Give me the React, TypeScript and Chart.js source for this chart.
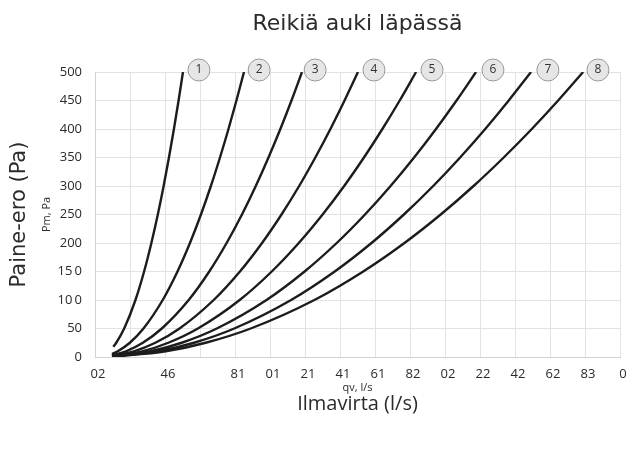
import React, { useEffect, useRef } from "react";
import { Chart, registerables } from "chart.js";

Chart.register(...registerables);

// x tick labels as printed on the reference (one per grid slot, "" = no label)
const X_TICK_LABELS = ["02", "", "46", "", "81", "01", "21", "41", "61", "82", "02", "22", "42", "62", "83", "0"];
const Y_TICK_LABELS = ["0", "50", "10\u20090", "15\u20090", "200", "250", "300", "350", "400", "450", "500"];

// pressure levels (Pa) shared by curves 2..8
const PRESSURE = [10, 25, 50, 100, 150, 200, 250, 300, 350, 400, 450, 500];
// common starting flow (grid units) where curves 2..8 begin
const START_Q = 0.486;
const START_P = [5.2, 2.7, 1.65, 1.1, 0.8, 0.6, 0.48];

// curve 1 has its own pressure points
const CURVE_1_P = [18, 25, 50, 100, 150, 200, 250, 300, 350, 400, 450, 500];
const CURVE_1_Q = [0.523, 0.607, 0.834, 1.156, 1.403, 1.611, 1.795, 1.961, 2.113, 2.255, 2.388, 2.514];

const CURVE_2_Q = [0.651, 0.996, 1.385, 1.935, 2.357, 2.713, 3.027, 3.311, 3.571, 3.814, 4.041, 4.257];
const CURVE_3_Q = [0.885, 1.367, 1.909, 2.677, 3.265, 3.761, 4.199, 4.594, 4.957, 5.296, 5.614, 5.914];
const CURVE_4_Q = [1.111, 1.724, 2.415, 3.391, 4.141, 4.773, 5.329, 5.833, 6.295, 6.726, 7.13, 7.514];
const CURVE_5_Q = [1.346, 2.096, 2.94, 4.134, 5.05, 5.823, 6.503, 7.119, 7.685, 8.211, 8.706, 9.174];
const CURVE_6_Q = [1.589, 2.479, 3.481, 4.9, 5.988, 6.906, 7.714, 8.445, 9.117, 9.743, 10.33, 10.886];
const CURVE_7_Q = [1.811, 2.83, 3.979, 5.603, 6.849, 7.9, 8.825, 9.663, 10.432, 11.149, 11.821, 12.458];
const CURVE_8_Q = [2.021, 3.163, 4.449, 6.269, 7.664, 8.841, 9.878, 10.816, 11.677, 12.48, 13.233, 13.947];

// numbered circle markers at the top of each curve
const MARKER_LABELS = ["1", "2", "3", "4", "5", "6", "7", "8"];
const MARKER_Q = [2.97, 4.69, 6.29, 7.97, 9.63, 11.37, 12.94, 14.37];
const MARKER_P = [503.5, 503.5, 503.5, 503.5, 503.5, 503.5, 503.5, 503.5];

const FONT = "'Open Sans', 'DejaVu Sans', sans-serif";
const WIDE_FONT = "'DejaVu Sans', 'Open Sans', sans-serif";
const TEXT = "#2b2b2b";

export default function App() {
  const ref = useRef<HTMLCanvasElement>(null);

  useEffect(() => {
    document.body.style.margin = "0";
    const canvas = ref.current;
    if (!canvas) return;
    Chart.defaults.font.family = FONT;

    const curveQs = [CURVE_2_Q, CURVE_3_Q, CURVE_4_Q, CURVE_5_Q, CURVE_6_Q, CURVE_7_Q, CURVE_8_Q];
    const lineStyle = {
      borderColor: "#1c1c1c",
      borderWidth: 2.4,
      pointRadius: 0,
      pointHoverRadius: 0,
      fill: false,
      cubicInterpolationMode: "monotone" as const,
    };
    const datasets: any[] = [
      {
        ...lineStyle,
        data: CURVE_1_Q.map((q, i) => ({ x: q, y: CURVE_1_P[i] })),
      },
      ...curveQs.map((qs, c) => ({
        ...lineStyle,
        data: [{ x: START_Q, y: START_P[c] }, ...qs.map((q, i) => ({ x: q, y: PRESSURE[i] }))],
      })),
      {
        data: MARKER_Q.map((q, i) => ({ x: q, y: MARKER_P[i] })),
        showLine: false,
        pointRadius: 11,
        pointHoverRadius: 11,
        pointBackgroundColor: "#e6e6e6",
        pointBorderColor: "#9a9a9a",
        pointBorderWidth: 1,
        clip: false,
      },
    ];

    const markerLabels = {
      id: "markerLabels",
      afterDatasetsDraw(chart: any) {
        const meta = chart.getDatasetMeta(datasets.length - 1);
        const c = chart.ctx;
        c.save();
        c.font = `12px ${FONT}`;
        c.fillStyle = "#333";
        c.textAlign = "center";
        c.textBaseline = "middle";
        meta.data.forEach((el: any, i: number) => c.fillText(MARKER_LABELS[i], el.x, el.y));
        c.restore();
      },
    };

    const chart = new Chart(canvas, {
      type: "line",
      data: { datasets },
      plugins: [markerLabels],
      options: {
        responsive: false,
        animation: false,
        layout: { autoPadding: false, padding: { left: 0, right: 8, top: 0, bottom: 0 } },
        plugins: {
          legend: { display: false },
          tooltip: { enabled: false },
          title: {
            display: true,
            text: "Reikiä auki läpässä",
            fullSize: false,
            color: TEXT,
            font: { size: 22, weight: "normal", family: WIDE_FONT },
            padding: { top: 11, bottom: 34.6 },
          },
        },
        scales: {
          x: {
            type: "linear",
            position: "bottom",
            weight: 0,
            min: 0,
            max: 15,
            ticks: {
              stepSize: 1,
              autoSkip: false,
              maxRotation: 0,
              padding: 9,
              labelOffset: 3,
              color: TEXT,
              font: { size: 13 },
              callback: (v: any) => X_TICK_LABELS[Math.round(Number(v))] ?? "",
            },
            grid: { color: "#e3e3e3", drawTicks: false },
            border: { color: "#d2d2d2" },
            title: {
              display: true,
              text: "qv, l/s",
              color: TEXT,
              font: { size: 11 },
              padding: { top: 0, bottom: 3 },
            },
            afterFit: (s: any) => {
              s.height = 40;
              s.paddingLeft = 0;
              s.paddingRight = 0;
            },
          },
          x2: {
            type: "linear",
            position: "bottom",
            weight: 1,
            min: 0,
            max: 15,
            ticks: { display: false },
            grid: { display: false },
            border: { display: false },
            title: {
              display: true,
              text: "Ilmavirta (l/s)",
              color: TEXT,
              font: { size: 20 },
              padding: { top: 0, bottom: 47 },
            },
            afterFit: (s: any) => {
              s.height = 66;
              s.paddingLeft = 0;
              s.paddingRight = 0;
            },
          },
          y: {
            type: "linear",
            position: "left",
            weight: 0,
            min: 0,
            max: 500,
            ticks: {
              stepSize: 50,
              padding: 13,
              color: TEXT,
              font: { size: 13 },
              callback: (v: any) => Y_TICK_LABELS[Math.round(Number(v) / 50)] ?? "",
            },
            grid: { color: "#e3e3e3", drawTicks: false },
            border: { color: "#d2d2d2" },
            title: {
              display: true,
              text: "Pm, Pa",
              color: TEXT,
              font: { size: 11 },
              padding: { top: 6, bottom: 0 },
            },
            afterFit: (s: any) => {
              s.width = 61;
            },
          },
          y2: {
            type: "linear",
            position: "left",
            weight: 1,
            min: 0,
            max: 500,
            ticks: { display: false },
            grid: { display: false },
            border: { display: false },
            title: {
              display: true,
              text: "Paine-ero (Pa)",
              color: TEXT,
              font: { size: 21, family: WIDE_FONT },
              padding: { top: 7, bottom: 0 },
            },
            afterFit: (s: any) => {
              s.width = 34;
            },
          },
        },
      } as any,
    });
    return () => chart.destroy();
  }, []);

  return (
    <div style={{ width: 628, height: 463 }}>
      <canvas ref={ref} width={628} height={463} style={{ display: "block" }} />
    </div>
  );
}
